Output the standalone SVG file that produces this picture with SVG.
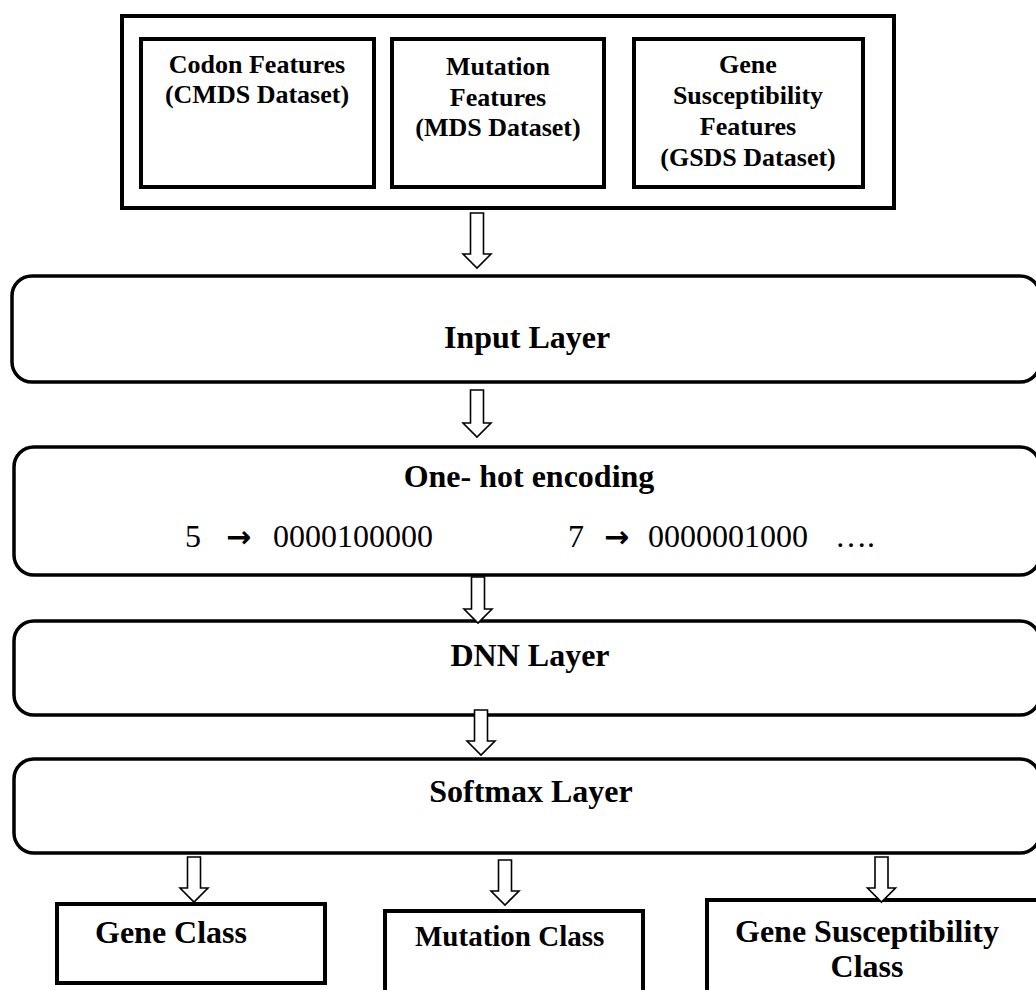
<svg xmlns="http://www.w3.org/2000/svg" width="1036" height="990" viewBox="0 0 1036 990">
<style>
.box{fill:#fff;stroke:#000;stroke-width:4}
.rbox{fill:#fff;stroke:#000;stroke-width:3.5}
.arr{fill:#fff;stroke:#000;stroke-width:1.6;stroke-linejoin:miter}
.t{font-family:"Liberation Serif","Times New Roman",serif;font-weight:bold;fill:#000}
.s{font-size:26px;text-anchor:middle}
.l{font-size:32px}
.m{text-anchor:middle}
.r{font-family:"Liberation Serif","Times New Roman",serif;font-size:32px;fill:#000}
</style>
<rect width="1036" height="990" fill="#fff"/>
<g id="datasets">
<rect class="box" x="122" y="16" width="772" height="192"/>
</g>
<g id="codon">
<rect class="box" x="141" y="39" width="233" height="148"/>
<text class="t s" x="257" y="73">Codon Features</text>
<text class="t s" x="257" y="103">(CMDS Dataset)</text>
</g>
<g id="mutation">
<rect class="box" x="392" y="39" width="212" height="148"/>
<text class="t s" x="498" y="75">Mutation</text>
<text class="t s" x="498" y="106">Features</text>
<text class="t s" x="498" y="136">(MDS Dataset)</text>
</g>
<g id="genesus">
<rect class="box" x="634" y="39" width="229" height="148"/>
<text class="t s" x="748" y="73">Gene</text>
<text class="t s" x="748" y="104">Susceptibility</text>
<text class="t s" x="748" y="135">Features</text>
<text class="t s" x="748" y="166">(GSDS Dataset)</text>
</g>
<g id="input">
<rect class="rbox" x="12" y="276" width="1028" height="106" rx="20"/>
<text class="t l m" x="527" y="348">Input Layer</text>
</g>
<g id="onehot">
<rect class="rbox" x="14" y="447" width="1026" height="128" rx="20"/>
<text class="t l m" x="529" y="487">One- hot encoding</text>
<text class="r" y="547"><tspan x="185">5</tspan><tspan x="226" font-family="DejaVu Sans" font-weight="bold" font-size="30">→</tspan><tspan x="273">0000100000</tspan><tspan x="568">7</tspan><tspan x="604" font-family="DejaVu Sans" font-weight="bold" font-size="30">→</tspan><tspan x="648">0000001000</tspan><tspan x="835">….</tspan></text>
</g>
<g id="dnn">
<rect class="rbox" x="14" y="621" width="1026" height="94" rx="20"/>
<text class="t l m" x="530" y="666">DNN Layer</text>
</g>
<g id="softmax">
<rect class="rbox" x="14" y="759" width="1026" height="94" rx="20"/>
<text class="t l m" x="531" y="802">Softmax Layer</text>
</g>
<g id="geneclass">
<rect class="box" x="57" y="904" width="268" height="79"/>
<text class="t l" x="95" y="943">Gene Class</text>
</g>
<g id="mutclass">
<rect class="box" x="385" y="911" width="258" height="100"/>
<text class="t" font-size="29" x="415" y="946">Mutation Class</text>
</g>
<g id="gsclass">
<rect class="box" x="707" y="900" width="400" height="120"/>
<text class="t l m" x="867" y="942">Gene Susceptibility</text>
<text class="t l m" x="867" y="977">Class</text>
</g>
<g id="connectors">
<path class="arr" d="M470.5,213 H483.5 V254 H491 L477,268 L463,254 H470.5 Z"/>
<path class="arr" d="M470.5,390 H483.5 V423 H491 L477,437 L463,423 H470.5 Z"/>
<path class="arr" d="M471.5,577 H484.5 V609 H492 L478,623 L464,609 H471.5 Z"/>
<path class="arr" d="M474.5,710 H487.5 V741 H495 L481,755 L467,741 H474.5 Z"/>
<path class="arr" d="M187.5,857 H200.5 V888 H208 L194,902 L180,888 H187.5 Z"/>
<path class="arr" d="M498.5,860 H511.5 V891 H519 L505,905 L491,891 H498.5 Z"/>
<path class="arr" d="M875,857 H888 V888 H895.5 L881.5,902 L867.5,888 H875 Z"/>
</g>
</svg>
